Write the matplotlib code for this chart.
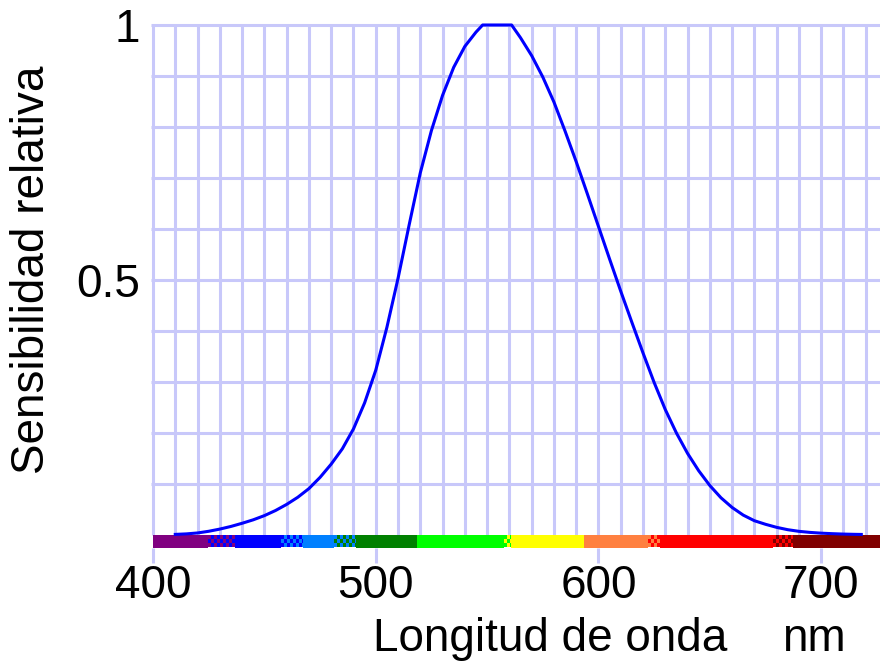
import matplotlib
matplotlib.use("Agg")
import matplotlib.pyplot as plt
import numpy as np
from matplotlib.colors import ListedColormap

# sensitivity curve (nm, relative value)
wavelength = [410, 415, 420, 425, 430, 435, 440, 445, 450, 455, 460, 465, 470, 475,
              480, 485, 490, 495, 500, 505, 510, 515, 520, 525, 530, 535, 540, 545,
              548, 555, 561, 565, 570, 575, 580, 585, 590, 595, 600, 605, 610, 615,
              620, 625, 630, 635, 640, 645, 650, 655, 660, 665, 670, 675, 680, 685,
              690, 695, 700, 705, 710, 715, 718]
sensitivity = [0.0012, 0.0022, 0.004, 0.0073, 0.0116, 0.0168, 0.023, 0.0298, 0.038, 0.048,
               0.06, 0.074, 0.091, 0.113, 0.139, 0.169, 0.208, 0.259, 0.323, 0.407,
               0.503, 0.608, 0.71, 0.793, 0.862, 0.917, 0.958, 0.986, 1.0, 1.0,
               1.0, 0.975, 0.94, 0.898, 0.849, 0.792, 0.732, 0.669, 0.605, 0.541,
               0.478, 0.417, 0.357, 0.299, 0.246, 0.2, 0.16, 0.126, 0.097, 0.073,
               0.054, 0.039, 0.028, 0.021, 0.015, 0.0104, 0.0072, 0.0051, 0.0036, 0.0026,
               0.0018, 0.0013, 0.0011]

# spectrum strip under the axis: band edges (nm) and colours (two colours = dithered band)
band_start = [400, 424.6, 436.8, 457.5, 467.2, 481.3, 491.2, 518.5, 557.6, 560.8, 593.5, 622.3, 627.7, 678.4, 687.4]
band_end = [424.6, 436.8, 457.5, 467.2, 481.3, 491.2, 518.5, 557.6, 560.8, 593.5, 622.3, 627.7, 678.4, 687.4, 730]
band_colors = [('#800080',), ('#800080', '#0000FF'), ('#0000FF',), ('#0000FF', '#0080FF'),
               ('#0080FF',), ('#0080FF', '#008000'), ('#008000',), ('#00FF00',),
               ('#00FF00', '#FFFF00'), ('#FFFF00',), ('#FF8040',), ('#FF8040', '#FF0000'),
               ('#FF0000',), ('#FF0000', '#800000'), ('#800000',)]

x_ticks = [400, 500, 600, 700]
y_ticks = [0.5, 1]
y_tick_labels = ['0.5', '1']

grid_color = '#C8C8FA'
font = ['Liberation Sans', 'DejaVu Sans']
plt.rcParams['font.family'] = font

fig = plt.figure(figsize=(8.8, 6.62), dpi=100)
# axes box in pixels: left 150, right 880, top 20, bottom 547.5
ax = fig.add_axes([150 / 880, 1 - 547.5 / 662, 730 / 880, (547.5 - 20) / 662])
ax.set_xlim(398.65, 726.4)
ax.set_ylim(-0.0245, 1.0098)

# grid
ax.vlines(np.arange(400, 721, 10), 0, 1, color=grid_color, linewidth=2.2, zorder=1)
ax.hlines(np.arange(0.1, 1.01, 0.1), 399.3, 730, color=grid_color, linewidth=2.2, zorder=1)

# spectrum strip
strip_h = 0.0245
for s, e, cols in zip(band_start, band_end, band_colors):
    if len(cols) == 1:
        ax.bar(s, strip_h, width=e - s, bottom=-strip_h, align='edge', color=cols[0],
               linewidth=0, zorder=2)
    else:
        xe = np.arange(s, e + 0.01, 1.35)
        if xe[-1] < e:
            xe = np.append(xe, e)
        ye = np.linspace(-strip_h, 0, 4)
        ii, jj = np.meshgrid(np.arange(len(xe) - 1), np.arange(len(ye) - 1))
        ax.pcolormesh(xe, ye, (ii + jj) % 2, cmap=ListedColormap(list(cols)),
                      vmin=0, vmax=1, zorder=2, edgecolors='none')

# the curve
ax.plot(wavelength, sensitivity, color='#0000FF', linewidth=2.2, zorder=3)

for sp in ax.spines.values():
    sp.set_visible(False)

ax.set_xticks(x_ticks)
ax.set_xticklabels([str(t) for t in x_ticks])
ax.tick_params(axis='x', direction='out', length=11, width=2.2, color=grid_color,
               labelsize=33, pad=1)
ax.set_yticks(y_ticks)
ax.set_yticklabels(y_tick_labels)
ax.tick_params(axis='y', length=0, labelsize=33, pad=7)

fig.text(373 / 880, 1 - 651 / 662, 'Longitud de onda', fontsize=33, ha='left', va='baseline')
fig.text(782 / 880, 1 - 651 / 662, 'nm', fontsize=33, ha='left', va='baseline')
fig.text(32 / 880, 1 - 270 / 662, 'Sensibilidad relativa', fontsize=33, rotation=90,
         ha='center', va='center')

fig.savefig('out.png', dpi=100)
